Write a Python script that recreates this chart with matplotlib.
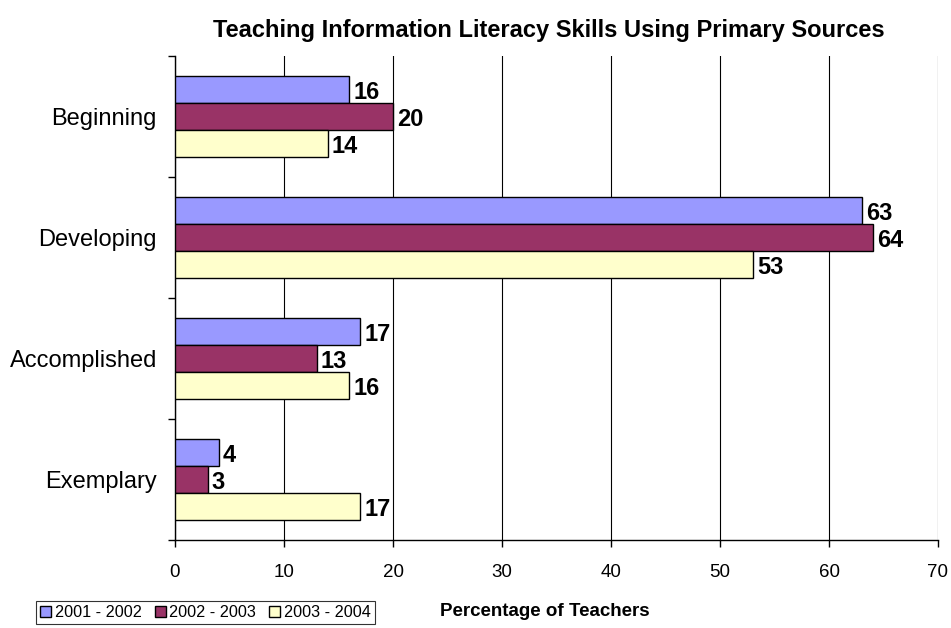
import matplotlib
matplotlib.use("Agg")
import matplotlib.pyplot as plt
import numpy as np

categories = ["Beginning", "Developing", "Accomplished", "Exemplary"]
series_names = ["2001 - 2002", "2002 - 2003", "2003 - 2004"]
values_2001_2002 = [16, 63, 17, 4]
values_2002_2003 = [20, 64, 13, 3]
values_2003_2004 = [14, 53, 16, 17]
colors = ["#9999FF", "#993366", "#FFFFCC"]
x_ticks = [0, 10, 20, 30, 40, 50, 60, 70]

plt.rcParams["font.family"] = ["Liberation Sans", "DejaVu Sans"]

fig = plt.figure(figsize=(9.51, 6.28), dpi=100)
ax = fig.add_axes([175 / 951, 1 - 540 / 628, 763 / 951, 484 / 628])

series = [values_2001_2002, values_2002_2003, values_2003_2004]
n = len(categories)
centers = np.arange(n)
bar_h = 0.223
offsets = [-bar_h, 0, bar_h]

handles = []
for vals, off, col, name in zip(series, offsets, colors, series_names):
    bars = ax.barh(centers + off, vals, height=bar_h, color=col,
                   edgecolor="black", linewidth=1.0, label=name, zorder=3)
    handles.append(bars)
    for y, v in zip(centers + off, vals):
        ax.annotate(str(v), xy=(v, y), xytext=(3, -2), textcoords="offset points",
                    ha="left", va="center", fontsize=17, fontweight="bold")

ax.set_xlim(0, 70)
ax.set_ylim(n - 0.5, -0.5)
ax.set_xticks(x_ticks)
ax.set_xticklabels([str(t) for t in x_ticks], fontsize=13.5)
ax.set_yticks(centers)
ax.set_yticklabels(categories, fontsize=17)
ax.set_yticks(np.arange(n + 1) - 0.5, minor=True)
ax.tick_params(axis="y", which="major", length=0, pad=13)
ax.tick_params(axis="y", which="minor", length=5, direction="out", width=1)
ax.tick_params(axis="x", which="major", length=5, direction="out", width=1, pad=12)

ax.grid(axis="x", color="black", linewidth=0.8, zorder=0)
ax.set_axisbelow(True)
for s in ["top", "right"]:
    ax.spines[s].set_visible(False)
ax.spines["left"].set_linewidth(1)
ax.spines["bottom"].set_linewidth(1)

fig.text(549 / 951, 1 - 31 / 628, "Teaching Information Literacy Skills Using Primary Sources",
         ha="center", va="center", fontsize=17, fontweight="bold")
fig.text(545 / 951, 1 - 611 / 628, "Percentage of Teachers",
         ha="center", va="center", fontsize=13.5, fontweight="bold")

leg = fig.legend(handles=handles, labels=series_names, loc="lower left",
                 bbox_to_anchor=(36 / 951, 1 - 624 / 628), ncol=3, fontsize=11.7,
                 frameon=True, fancybox=False, edgecolor="black",
                 handlelength=0.7, handleheight=0.7, handletextpad=0.2,
                 columnspacing=0.8, borderpad=0.25, borderaxespad=0)
leg.get_frame().set_linewidth(0.8)

fig.savefig("out.png", dpi=100)
